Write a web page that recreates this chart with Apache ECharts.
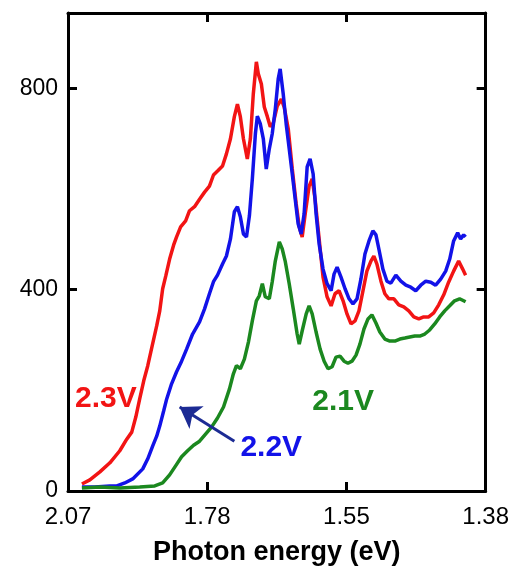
<!DOCTYPE html>
<html>
<head>
<meta charset="utf-8">
<script src="https://cdn.jsdelivr.net/npm/echarts@6/dist/echarts.min.js"></script>
<style>
  html, body { margin: 0; padding: 0; background: #ffffff; }
  #chart { width: 512px; height: 571px; }
</style>
</head>
<body>
<div id="chart"></div>
<script>
// Horizontal axis runs linearly in wavelength (nm); ticks are labelled in photon energy.
const tickWavelengths = [600, 700, 800, 900];
const tickEnergyLabels = ['2.07', '1.78', '1.55', '1.38'];
const yTickValues = [0, 400, 800];
const xTitle = 'Photon energy (eV)';

// Spectra: [wavelength nm, intensity]
const spectrum23V = [
  [610.0,14],[615.7,22],[622.9,38],[630.1,56],[637.2,80],[642.2,103],[645.8,117],[648.7,147],
  [651.5,183],[654.4,219],[657.3,249],[660.1,284],[663.7,328],[665.9,358],[668.0,402],[670.2,427],
  [673.0,461],[675.9,489],[678.0,505],[680.9,525],[684.5,537],[687.3,557],[690.9,565],[694.5,580],
  [698.1,594],[701.6,606],[704.5,628],[707.4,636],[711.0,646],[713.8,670],[716.7,700],[719.5,744],
  [721.7,769],[723.8,744],[726.0,700],[728.8,660],[731.0,700],[733.1,789],[735.3,853],[736.7,829],
  [738.9,809],[741.0,763],[743.2,744],[745.3,724],[747.5,732],[750.3,765],[753.2,779],[755.3,763],
  [758.2,720],[761.1,640],[763.9,571],[766.1,525],[768.2,505],[770.4,551],[773.2,606],[775.4,620],
  [777.5,580],[780.4,501],[783.2,425],[786.1,386],[789.0,368],[791.8,392],[794.7,398],[797.6,378],
  [800.4,352],[803.3,332],[806.2,338],[809.0,358],[811.9,398],[814.7,437],[817.6,457],[819.7,467],
  [821.9,451],[824.8,417],[827.6,392],[830.5,382],[834.1,382],[837.6,370],[841.2,366],[844.8,358],
  [848.4,346],[852.0,342],[855.5,346],[859.1,346],[862.7,354],[866.3,370],[869.9,390],[873.4,415],
  [877.0,437],[880.6,457],[883.5,441],[885.6,429]
];

const spectrum22V = [
  [610.0,8],[619.3,8],[630.1,10],[635.1,10],[640.8,16],[646.5,24],[653.7,44],[657.3,64],
  [660.8,89],[663.7,109],[665.9,129],[668.7,159],[670.9,183],[674.4,213],[678.0,237],[681.6,258],
  [685.2,282],[689.5,312],[694.5,336],[698.1,362],[701.6,392],[704.5,416],[707.4,429],[711.0,451],
  [713.8,467],[716.7,501],[719.5,555],[721.7,565],[723.8,545],[726.0,511],[728.2,505],[730.3,547],
  [732.4,620],[734.6,710],[736.0,745],[738.1,730],[740.3,700],[742.4,640],[744.6,680],[746.7,710],
  [748.9,759],[751.0,819],[752.4,839],[754.6,789],[756.7,730],[758.9,680],[761.1,630],[763.2,580],
  [765.3,531],[767.5,511],[769.6,551],[771.8,644],[773.9,660],[776.1,630],[778.2,551],[780.4,491],
  [783.2,441],[786.1,412],[789.0,398],[791.1,431],[793.3,445],[796.1,425],[799.0,402],[801.9,382],
  [804.7,372],[807.6,382],[810.4,421],[813.3,471],[816.2,497],[819.0,517],[821.2,509],[823.3,481],
  [826.2,441],[829.1,417],[831.9,413],[835.5,429],[839.1,417],[842.7,409],[846.2,405],[849.8,398],
  [853.4,409],[857.0,417],[860.6,415],[864.1,409],[867.7,421],[871.3,437],[874.2,461],[877.0,497],
  [879.9,513],[882.0,501],[884.2,509],[885.6,505]
];

const spectrum21V = [
  [610.0,6],[622.9,8],[637.2,6],[651.5,8],[662.3,10],[668.0,16],[673.0,32],[677.3,50],
  [681.6,68],[685.9,80],[690.2,91],[694.5,99],[698.8,113],[703.1,127],[707.4,145],[711.7,167],
  [716.0,203],[718.8,233],[721.0,249],[723.8,243],[726.7,262],[729.6,296],[732.4,338],[735.3,378],
  [737.4,388],[739.6,412],[741.7,386],[744.6,382],[746.7,416],[748.9,457],[751.8,495],[753.9,481],
  [756.0,457],[758.9,412],[761.8,362],[764.6,312],[766.1,292],[768.2,318],[771.1,352],[773.2,368],
  [775.4,352],[778.2,316],[781.1,282],[784.0,258],[786.8,243],[789.7,247],[792.5,266],[795.4,268],
  [798.3,258],[801.1,254],[804.0,258],[806.9,270],[809.7,292],[812.6,322],[815.5,342],[818.3,350],
  [821.2,334],[824.0,316],[827.6,302],[831.2,298],[834.8,298],[838.4,302],[842.0,304],[845.5,306],
  [849.1,308],[852.7,308],[856.3,312],[859.8,320],[863.4,332],[867.0,346],[870.6,358],[874.2,368],
  [877.7,378],[881.3,382],[884.2,378],[885.6,376]
];

// Curve labels (text, anchor in data units) and the pointer arrow for 2.2V
const label23V = { text: '2.3V', at: [627.2, 183] };
const label22V = { text: '2.2V', at: [746.0, 85] };
const label21V = { text: '2.1V', at: [797.6, 177] };
const arrow22V = { from: [719.5, 99], to: [680.2, 167] };

const RED = '#f21414';
const BLUE = '#1212e8';
const GREEN = '#1b881f';
const ARROW = '#1c2b94';
const FONT = '"Liberation Sans", Arial, Helvetica, sans-serif';

const labelMap = {};
tickWavelengths.forEach((w, i) => { labelMap[w] = tickEnergyLabels[i]; });

function frameAxis(extra) {
  return Object.assign({
    axisLine: { show: true, onZero: false, lineStyle: { color: '#000', width: 3 } },
    axisTick: { show: true, inside: true, length: 9, lineStyle: { color: '#000', width: 3 } },
    splitLine: { show: false },
  }, extra);
}

function curveLabel(lbl, color) {
  return {
    symbol: 'circle', symbolSize: 0, silent: true,
    data: [{
      coord: lbl.at,
      label: {
        show: true, position: 'inside', formatter: lbl.text,
        color: color, fontFamily: FONT, fontWeight: 'bold', fontSize: 30
      }
    }]
  };
}

const chart = echarts.init(document.getElementById('chart'), null, { renderer: 'canvas' });

chart.setOption({
  animation: false,
  backgroundColor: '#ffffff',
  grid: { left: 68, right: 25, top: 13, bottom: 79, containLabel: false },
  xAxis: [
    frameAxis({
      type: 'value', min: 600, max: 900, interval: 100, position: 'bottom',
      name: xTitle, nameLocation: 'middle', nameGap: 48,
      nameTextStyle: { color: '#000', fontFamily: FONT, fontWeight: 'bold', fontSize: 27 },
      axisLabel: {
        show: true, margin: 14, color: '#000', fontFamily: FONT, fontSize: 24,
        formatter: v => (labelMap[v] !== undefined ? labelMap[v] : '')
      }
    }),
    frameAxis({
      type: 'value', min: 600, max: 900, interval: 100, position: 'top',
      axisLabel: { show: false }
    })
  ],
  yAxis: [
    frameAxis({
      type: 'value', min: 0, max: 950, interval: 400, position: 'left',
      axisLabel: {
        show: true, margin: 10, color: '#000', fontFamily: FONT, fontSize: 23,
        formatter: v => (yTickValues.indexOf(v) >= 0 ? String(v) : '')
      }
    }),
    frameAxis({
      type: 'value', min: 0, max: 950, interval: 400, position: 'right',
      axisLabel: { show: false }
    })
  ],
  series: [
    {
      name: '2.3V', type: 'line', data: spectrum23V, showSymbol: false,
      lineStyle: { color: RED, width: 3.5 }, itemStyle: { color: RED },
      markPoint: curveLabel(label23V, RED), z: 2
    },
    {
      name: '2.2V', type: 'line', data: spectrum22V, showSymbol: false,
      lineStyle: { color: BLUE, width: 3.5 }, itemStyle: { color: BLUE },
      markPoint: curveLabel(label22V, BLUE),
      markLine: {
        silent: true, symbol: ['none', 'arrow'], symbolSize: 20,
        itemStyle: { color: ARROW },
        lineStyle: { color: ARROW, width: 3, type: 'solid' },
        label: { show: false },
        data: [[{ coord: arrow22V.from }, { coord: arrow22V.to }]]
      },
      z: 3
    },
    {
      name: '2.1V', type: 'line', data: spectrum21V, showSymbol: false,
      lineStyle: { color: GREEN, width: 3.5 }, itemStyle: { color: GREEN },
      markPoint: curveLabel(label21V, GREEN), z: 4
    }
  ]
});
</script>
</body>
</html>
